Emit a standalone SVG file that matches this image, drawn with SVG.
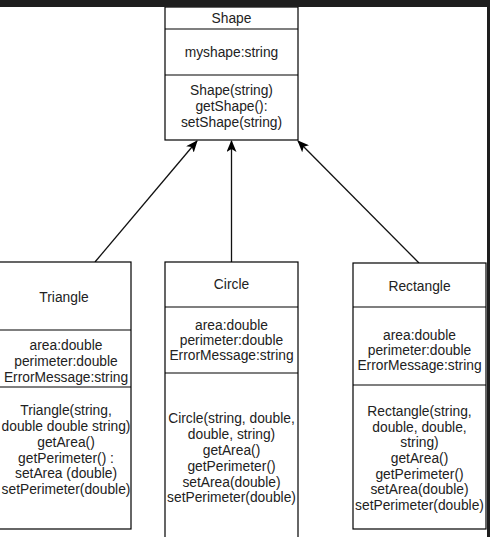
<svg xmlns="http://www.w3.org/2000/svg" width="490" height="537" viewBox="0 0 490 537">
<style>
  .box { fill: #ffffff; stroke: #000000; stroke-width: 1.2; }
  .sep { stroke: #000000; stroke-width: 1.2; fill: none; }
  .t { font-family: "Liberation Sans", Arial, sans-serif; font-size: 13.8px; fill: #222222; text-anchor: middle; }
  .edge { stroke: #111111; stroke-width: 1.3; fill: none; marker-end: url(#arrow); }
  .frame { fill: #1e1e1e; }
</style>
<defs>
  <marker id="arrow" viewBox="0 0 12 10" refX="11" refY="5" markerWidth="12" markerHeight="10" markerUnits="userSpaceOnUse" orient="auto">
    <path d="M0,0 L12,5 L0,10 L3,5 z" fill="#000000"/>
  </marker>
</defs>
<rect x="0" y="0" width="490" height="537" fill="#ffffff"/>

<g id="connectors">
  <line class="edge" x1="95" y1="262" x2="197" y2="141"/>
  <line class="edge" x1="231.5" y1="262" x2="231.5" y2="141"/>
  <line class="edge" x1="419" y1="263" x2="298" y2="141"/>
</g>

<g id="shape">
  <rect class="box" x="165" y="7" width="133" height="133"/>
  <line class="sep" x1="165" y1="29" x2="298" y2="29"/>
  <line class="sep" x1="165" y1="75" x2="298" y2="75"/>
  <text class="t" x="231.5" y="23">Shape</text>
  <text class="t" x="231.5" y="57">myshape:string</text>
  <text class="t" x="231.5" y="95">Shape(string)</text>
  <text class="t" x="231.5" y="111">getShape():</text>
  <text class="t" x="231.5" y="127">setShape(string)</text>
</g>

<g id="triangle">
  <rect class="box" x="-3" y="262" width="134" height="267"/>
  <line class="sep" x1="-3" y1="330" x2="131" y2="330"/>
  <line class="sep" x1="-3" y1="387" x2="131" y2="387"/>
  <text class="t" x="64" y="302">Triangle</text>
  <text class="t" x="66" y="350">area:double</text>
  <text class="t" x="66" y="366">perimeter:double</text>
  <text class="t" x="66" y="382">ErrorMessage:string</text>
  <text class="t" x="66" y="415">Triangle(string,</text>
  <text class="t" x="66" y="431">double double string)</text>
  <text class="t" x="66" y="447">getArea()</text>
  <text class="t" x="66" y="463">getPerimeter() :</text>
  <text class="t" x="66" y="478">setArea (double)</text>
  <text class="t" x="66" y="494">setPerimeter(double)</text>
</g>

<g id="circle">
  <rect class="box" x="165" y="262" width="133" height="290"/>
  <line class="sep" x1="165" y1="307" x2="298" y2="307"/>
  <line class="sep" x1="165" y1="373" x2="298" y2="373"/>
  <text class="t" x="231.5" y="289">Circle</text>
  <text class="t" x="231.5" y="330">area:double</text>
  <text class="t" x="231.5" y="345">perimeter:double</text>
  <text class="t" x="231.5" y="360">ErrorMessage:string</text>
  <text class="t" x="231.5" y="423">Circle(string, double,</text>
  <text class="t" x="231.5" y="439">double, string)</text>
  <text class="t" x="231.5" y="455">getArea()</text>
  <text class="t" x="231.5" y="471">getPerimeter()</text>
  <text class="t" x="231.5" y="487">setArea(double)</text>
  <text class="t" x="231.5" y="502">setPerimeter(double)</text>
</g>

<g id="rectangle">
  <rect class="box" x="353" y="263" width="133" height="266"/>
  <line class="sep" x1="353" y1="307" x2="486" y2="307"/>
  <line class="sep" x1="353" y1="385" x2="486" y2="385"/>
  <text class="t" x="419.5" y="291">Rectangle</text>
  <text class="t" x="419.5" y="340">area:double</text>
  <text class="t" x="419.5" y="355">perimeter:double</text>
  <text class="t" x="419.5" y="370">ErrorMessage:string</text>
  <text class="t" x="419.5" y="416">Rectangle(string,</text>
  <text class="t" x="419.5" y="432">double, double,</text>
  <text class="t" x="419.5" y="447">string)</text>
  <text class="t" x="419.5" y="463">getArea()</text>
  <text class="t" x="419.5" y="479">getPerimeter()</text>
  <text class="t" x="419.5" y="494">setArea(double)</text>
  <text class="t" x="419.5" y="510">setPerimeter(double)</text>
</g>

<rect class="frame" x="0" y="0" width="490" height="7"/>
<rect class="frame" x="487" y="0" width="3" height="537"/>
</svg>
